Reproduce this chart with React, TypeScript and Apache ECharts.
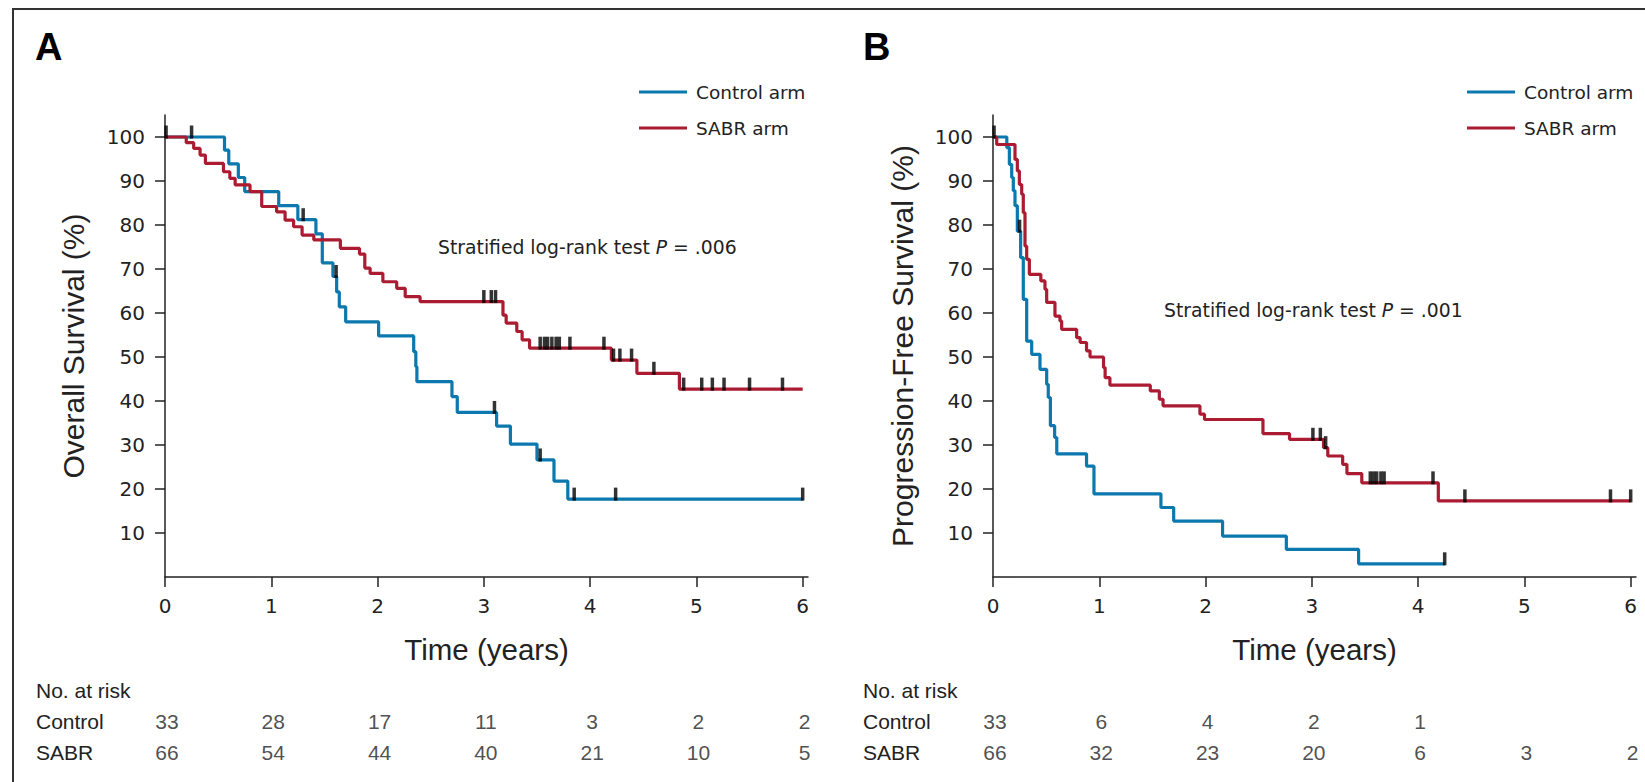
import React, { useEffect, useRef } from 'react';
import * as echarts from 'echarts';

// ---------- data ----------
const xTicks = [0, 1, 2, 3, 4, 5, 6];
const yTicks = [10, 20, 30, 40, 50, 60, 70, 80, 90, 100];

// Panel A: Overall survival (step points: time in years, survival % after the step)
const osControlT = [0, 0.56, 0.60, 0.69, 0.75, 1.07, 1.25, 1.42, 1.48, 1.58, 1.615, 1.64, 1.70, 2.01, 2.34, 2.36, 2.37, 2.70, 2.75, 3.12, 3.25, 3.50, 3.66, 3.79, 6.0];
const osControlV = [100, 97.0, 93.9, 90.8, 87.6, 84.4, 81.2, 78.0, 71.4, 68.3, 64.8, 61.4, 58.0, 54.8, 51.2, 47.8, 44.4, 41.0, 37.4, 34.3, 30.2, 26.6, 21.8, 17.7, 17.7];
const osControlCensor = [0.01, 0.25, 1.30, 1.61, 3.10, 3.53, 3.85, 4.24, 6.0];

const osSabrT = [0, 0.20, 0.27, 0.33, 0.38, 0.55, 0.61, 0.66, 0.80, 0.91, 1.05, 1.13, 1.21, 1.29, 1.40, 1.65, 1.83, 1.88, 1.93, 2.05, 2.18, 2.26, 2.40, 3.18, 3.21, 3.31, 3.36, 3.43, 4.20, 4.44, 4.84, 6.0];
const osSabrV = [100, 98.7, 97.4, 95.9, 94.0, 92.1, 90.6, 89.1, 87.6, 84.2, 83.0, 81.1, 79.6, 77.7, 76.6, 74.7, 73.4, 70.2, 69.0, 67.1, 65.6, 63.7, 62.6, 59.5, 57.7, 55.8, 53.9, 52.0, 49.3, 46.3, 42.7, 42.7];
const osSabrCensor = [3.00, 3.07, 3.11, 3.53, 3.57, 3.60, 3.64, 3.68, 3.71, 3.81, 4.13, 4.22, 4.28, 4.39, 4.60, 4.88, 5.05, 5.15, 5.26, 5.50, 5.81];

// Panel B: Progression-free survival
const pfsControlT = [0, 0.13, 0.154, 0.176, 0.191, 0.207, 0.229, 0.26, 0.285, 0.317, 0.364, 0.442, 0.505, 0.52, 0.54, 0.58, 0.60, 0.88, 0.95, 1.58, 1.70, 2.16, 2.76, 3.44, 4.25];
const pfsControlV = [100, 97.6, 93.8, 90.8, 87.8, 84.4, 78.6, 72.6, 63.1, 53.6, 50.6, 47.2, 43.8, 40.8, 34.4, 31.7, 28.0, 25.2, 18.9, 15.8, 12.7, 9.3, 6.3, 3.0, 3.0];
const pfsControlCensor = [0.01, 0.25, 4.25];

const pfsSabrT = [0, 0.035, 0.207, 0.229, 0.248, 0.27, 0.285, 0.301, 0.317, 0.342, 0.45, 0.489, 0.505, 0.583, 0.63, 0.646, 0.787, 0.82, 0.88, 0.913, 1.04, 1.055, 1.10, 1.48, 1.565, 1.60, 1.947, 1.99, 2.54, 2.79, 3.11, 3.15, 3.29, 3.33, 3.47, 4.19, 6.0];
const pfsSabrV = [100, 98.3, 94.9, 92.3, 89.2, 87.0, 82.8, 75.2, 72.2, 68.8, 67.3, 65.4, 62.4, 59.3, 58.2, 56.3, 54.4, 53.3, 51.4, 50.0, 47.6, 45.3, 43.6, 42.3, 40.4, 38.9, 37.0, 35.8, 32.6, 31.3, 29.4, 27.5, 25.6, 23.5, 21.4, 17.3, 17.3];
const pfsSabrCensor = [3.01, 3.08, 3.13, 3.55, 3.58, 3.61, 3.65, 3.68, 4.14, 4.44, 5.81, 6.0];

// Numbers at risk
const riskRows = ['Control', 'SABR'];
const riskTimes = [0, 1, 2, 3, 4, 5, 6];
const riskOsControl = [33, 28, 17, 11, 3, 2, 2];
const riskOsSabr = [66, 54, 44, 40, 21, 10, 5];
const riskPfsControl = [33, 6, 4, 2, 1];
const riskPfsSabr = [66, 32, 23, 20, 6, 3, 2];

const seriesNames = ['Control arm', 'SABR arm'];

// ---------- styles ----------
const BLUE = '#0b78ae';
const RED = '#ab1b32';
const INK = '#222222';
const NARROW = '"Liberation Sans Narrow", "Liberation Sans", Arial, sans-serif';
const WIDE = '"DejaVu Sans", Verdana, sans-serif';

function stepData(ts: number[], vs: number[]) {
  return ts.map((t, i) => [t, vs[i]]);
}
function valueAt(ts: number[], vs: number[], t: number) {
  let v = vs[0];
  for (let i = 0; i < ts.length; i++) if (ts[i] <= t) v = vs[i];
  return v;
}
function censorData(ts: number[], vs: number[], cs: number[]) {
  return cs.map((c) => [c, valueAt(ts, vs, c)]);
}

export default function App() {
  const ref = useRef<HTMLDivElement>(null);

  useEffect(() => {
    if (!ref.current) return;
    const chart = echarts.init(ref.current, undefined, { renderer: 'svg' });

    const plotGrids = [
      { left: 165, top: 115, width: 643, height: 462 },
      { left: 993, top: 115, width: 643, height: 462 },
    ];
    const riskGrids = [
      { left: 165, top: 706, width: 643, height: 62 },
      { left: 993, top: 706, width: 643, height: 62 },
    ];

    const mainX = (gi: number) => ({
      type: 'value',
      gridIndex: gi,
      min: 0,
      max: 6.05,
      interval: 1,
      name: 'Time (years)',
      nameLocation: 'middle',
      nameGap: 57,
      nameTextStyle: { fontFamily: NARROW, fontSize: 29.5, color: INK },
      axisLine: { show: true, lineStyle: { color: INK, width: 1.5 } },
      axisTick: { show: true, length: 10, customValues: xTicks, lineStyle: { color: INK, width: 1.5 } },
      axisLabel: { customValues: xTicks, margin: 19, fontFamily: WIDE, fontSize: 20, color: INK },
      splitLine: { show: false },
    });
    const mainY = (gi: number, name: string, gap: number) => ({
      type: 'value',
      gridIndex: gi,
      min: 0,
      max: 105,
      interval: 10,
      name,
      nameLocation: 'middle',
      nameGap: gap,
      nameTextStyle: { fontFamily: NARROW, fontSize: 30, color: INK },
      axisLine: { show: true, lineStyle: { color: INK, width: 1.5 } },
      axisTick: { show: true, length: 10, customValues: yTicks, lineStyle: { color: INK, width: 1.5 } },
      axisLabel: { customValues: yTicks, margin: 20, fontFamily: WIDE, fontSize: 20, color: INK },
      splitLine: { show: false },
    });
    const riskX = (gi: number) => ({
      type: 'value', gridIndex: gi, min: 0, max: 6.05, interval: 1, show: false,
    });
    const riskY = (gi: number, margin: number) => ({
      type: 'category',
      gridIndex: gi,
      data: riskRows,
      inverse: true,
      axisLine: { show: false },
      axisTick: { show: false },
      splitLine: { show: false },
      axisLabel: { align: 'left', margin, fontFamily: NARROW, fontSize: 21, color: INK },
    });

    const lineSeries = (name: string, color: string, axis: number, ts: number[], vs: number[]) => ({
      type: 'line',
      name,
      xAxisIndex: axis,
      yAxisIndex: axis,
      step: 'end',
      symbol: 'none',
      lineStyle: { color, width: 3.2 },
      itemStyle: { color },
      data: stepData(ts, vs),
      z: 2,
    });
    const censorSeries = (axis: number, ts: number[], vs: number[], cs: number[]) => ({
      type: 'scatter',
      xAxisIndex: axis,
      yAxisIndex: axis,
      symbol: 'rect',
      symbolSize: [3.5, 13],
      symbolOffset: [0, -5],
      itemStyle: { color: '#000' },
      data: censorData(ts, vs, cs),
      z: 3,
      silent: true,
    });
    const riskSeries = (axis: number, row: string, counts: number[]) => ({
      type: 'scatter',
      xAxisIndex: axis,
      yAxisIndex: axis,
      symbolSize: 1,
      itemStyle: { color: 'rgba(0,0,0,0)' },
      data: counts.map((n, i) => [riskTimes[i], row, n]),
      label: {
        show: true,
        position: 'inside',
        offset: [2, 0],
        formatter: (p: any) => String(p.value[2]),
        fontFamily: NARROW,
        fontSize: 21,
        color: INK,
      },
      silent: true,
    });

    const legendCommon = {
      orient: 'vertical',
      icon: 'rect',
      itemWidth: 48,
      itemHeight: 3,
      itemGap: 16,
      data: seriesNames,
      textStyle: { fontFamily: WIDE, fontSize: 18.5, color: INK, lineHeight: 20, padding: [0, 0, 0, 4] },
      selectedMode: false,
    };

    const statText = (x: number, y: number, p: string) => ({
      type: 'text',
      left: x,
      top: y,
      style: {
        text: `{a|Stratified log-rank test }{i|P}{a| = ${p}}`,
        rich: {
          a: { fontFamily: WIDE, fontSize: 18.8, fill: INK },
          i: { fontFamily: WIDE, fontSize: 18.8, fontStyle: 'italic', fill: INK },
        },
      },
    });

    chart.setOption({
      animation: false,
      backgroundColor: '#ffffff',
      grid: [...plotGrids, ...riskGrids],
      xAxis: [mainX(0), mainX(1), riskX(2), riskX(3)],
      yAxis: [
        mainY(0, 'Overall Survival (%)', 77),
        mainY(1, 'Progression-Free Survival (%)', 76),
        riskY(2, 129),
        riskY(3, 130),
      ],
      legend: [
        { ...legendCommon, left: 634, top: 77 },
        { ...legendCommon, left: 1462, top: 77 },
      ],
      series: [
        lineSeries(seriesNames[0], BLUE, 0, osControlT, osControlV),
        lineSeries(seriesNames[1], RED, 0, osSabrT, osSabrV),
        censorSeries(0, osControlT, osControlV, osControlCensor),
        censorSeries(0, osSabrT, osSabrV, osSabrCensor),
        lineSeries(seriesNames[0], BLUE, 1, pfsControlT, pfsControlV),
        lineSeries(seriesNames[1], RED, 1, pfsSabrT, pfsSabrV),
        censorSeries(1, pfsControlT, pfsControlV, pfsControlCensor),
        censorSeries(1, pfsSabrT, pfsSabrV, pfsSabrCensor),
        riskSeries(2, riskRows[0], riskOsControl),
        riskSeries(2, riskRows[1], riskOsSabr),
        riskSeries(3, riskRows[0], riskPfsControl),
        riskSeries(3, riskRows[1], riskPfsSabr),
      ],
      graphic: [
        {
          type: 'rect',
          shape: { x: 13, y: 9, width: 1700, height: 900 },
          style: { fill: 'none', stroke: '#333', lineWidth: 2 },
          silent: true,
        },
        {
          type: 'text', left: 35, top: 28,
          style: { text: 'A', fontFamily: '"Liberation Sans", Arial, sans-serif', fontWeight: 'bold', fontSize: 38, fill: '#000' },
        },
        {
          type: 'text', left: 863, top: 28,
          style: { text: 'B', fontFamily: '"Liberation Sans", Arial, sans-serif', fontWeight: 'bold', fontSize: 38, fill: '#000' },
        },
        statText(438, 238, '.006'),
        statText(1164, 301, '.001'),
        {
          type: 'text', left: 36, top: 680,
          style: { text: 'No. at risk', fontFamily: NARROW, fontSize: 21, fill: INK },
        },
        {
          type: 'text', left: 863, top: 680,
          style: { text: 'No. at risk', fontFamily: NARROW, fontSize: 21, fill: INK },
        },
      ],
    });

    return () => chart.dispose();
  }, []);

  return (
    <div
      ref={ref}
      style={{ position: 'absolute', left: 0, top: 0, width: 1645, height: 782, background: '#fff' }}
    />
  );
}
